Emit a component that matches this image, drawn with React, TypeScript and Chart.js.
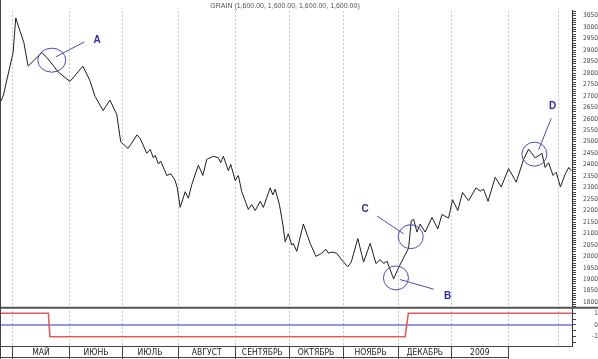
import React, { useEffect, useRef } from "react";
import { Chart, registerables } from "chart.js";

Chart.register(...registerables);

// ---- data (x = trading session index from late April 2008) ----
const sessions = [
  0, 0.9, 4.6, 5.6, 8.7, 10.3, 15.5, 17.4, 19.4, 21.7, 26.2, 31.1, 33.8, 35.7, 38.8,
  41.4, 44, 45.5, 48.3, 51.7, 52.9, 55.4, 56.7, 57.9, 58.6, 59.8, 60.7, 63, 64.5,
  66.2, 67, 68.1, 70, 71.2, 72.5, 75, 76.7, 78.2, 80.7, 82.6, 83.5, 84.5, 86.4,
  87.3, 89, 90.2, 91.5, 94, 95.3, 96.6, 98.5, 99.7, 102.3, 103.3, 104.2, 105.8,
  107.1, 108, 109.2, 110.5, 111.1, 112.4, 114.9, 117.5, 119.7, 121.9, 123.5,
  124.4, 125.7, 127.6, 129.5, 131.8, 133.1, 135.6, 137.8, 140.3, 142.5, 144.1,
  145.4, 146.7, 149.2, 151.1, 153.6, 154.9, 155.9, 156.8, 158.1, 159.3, 161.2,
  163.8, 166, 167.6, 170.1, 171.6, 173.6, 175.4, 177.7, 180.5, 182.1, 183.4,
  185.1, 187.8, 190.1, 192.9, 195.8, 198.6, 200.5, 203, 205.6, 206.8, 208.1,
  209.8, 211, 212.6, 214.5, 215.8, 216.7,
];
const prices = [
  2678, 2703, 2889, 3040, 2932, 2830, 2889, 2868, 2839, 2805, 2763, 2830, 2767, 2699, 2636,
  2682, 2619, 2500, 2471, 2530, 2514, 2450, 2467, 2430, 2441, 2403, 2416, 2353, 2361,
  2331, 2298, 2214, 2282, 2254, 2313, 2398, 2353, 2423, 2437, 2430, 2409, 2437, 2374,
  2402, 2331, 2353, 2282, 2205, 2226, 2200, 2240, 2214, 2299, 2268, 2293, 2226,
  2141, 2064, 2099, 2049, 2057, 2022, 2141, 2057, 2000, 2014, 2031,
  2014, 2019, 2014, 1984, 1955, 1975, 2078, 1975, 2057, 1969, 1986,
  1969, 1979, 1902, 1951, 2007, 2036, 2155, 2162, 2106, 2141, 2106,
  2170, 2120, 2183, 2167, 2247, 2200, 2279, 2243, 2299, 2285, 2293,
  2240, 2345, 2303, 2383, 2324, 2423, 2468, 2430, 2449, 2388, 2409,
  2353, 2367, 2303, 2361, 2388, 2374,
];

// indicator panel
const signalSessions = [0, 18.0, 18.6, 153.6, 154.8, 217];
const signalValues = [1, 1, -1, -1, 1, 1];
const zeroSessions = [0, 217];
const zeroValues = [0, 0];

// month boundaries (session index) and labels
const monthStarts = [4.2, 26.2, 46, 67.3, 89.1, 109.5, 130, 150.9, 171.2, 192.7, 211.7];
const monthLabels = ["МАЙ", "ИЮНЬ", "ИЮЛЬ", "АВГУСТ", "СЕНТЯБРЬ", "ОКТЯБРЬ", "НОЯБРЬ", "ДЕКАБРЬ", "2009"];

const titleText = "GRAIN (1,600.00, 1,600.00, 1,600.00, 1,600.00)";

// annotations (data coordinates)
const annoLetters = ["A", "B", "C", "D"];
const annoCenterS = [19.3, 150.1, 155.7, 202.7];
const annoCenterP = [2856, 1906, 2086, 2446];
const annoLineFromS = [20.9, 151.7, 142.9, 204.3];
const annoLineFromP = [2871, 1899, 2176, 2465];
const annoLineToS = [31.6, 164.4, 153.0, 209.1];
const annoLineToP = [2935, 1857, 2099, 2602];
const annoTextS = [36.5, 169.7, 138.4, 209.6];
const annoTextP = [2944, 1828, 2205, 2653];

const NARROW = "'Liberation Sans Narrow', 'DejaVu Sans Condensed', Arial, sans-serif";

const overlayPlugin = {
  id: "overlay",
  afterDatasetsDraw(chart: any) {
    const { ctx, scales } = chart;
    const xs = scales.x;
    const ys = scales.y;
    ctx.save();
    for (let i = 0; i < annoLetters.length; i++) {
      const cx = xs.getPixelForValue(annoCenterS[i]);
      const cy = ys.getPixelForValue(annoCenterP[i]);
      ctx.strokeStyle = "#4a4ab8";
      ctx.lineWidth = 1;
      ctx.beginPath();
      ctx.ellipse(cx, cy, i === 0 ? 14 : 12.5, 12, 0, 0, Math.PI * 2);
      ctx.stroke();
      ctx.beginPath();
      ctx.moveTo(xs.getPixelForValue(annoLineFromS[i]), ys.getPixelForValue(annoLineFromP[i]));
      ctx.lineTo(xs.getPixelForValue(annoLineToS[i]), ys.getPixelForValue(annoLineToP[i]));
      ctx.stroke();
      ctx.fillStyle = "#2b2ba6";
      ctx.font = "bold 10px Arial, 'Liberation Sans', sans-serif";
      ctx.textAlign = "center";
      ctx.textBaseline = "middle";
      ctx.fillText(annoLetters[i], xs.getPixelForValue(annoTextS[i]), ys.getPixelForValue(annoTextP[i]));
    }
    ctx.restore();
  },
  afterDraw(chart: any) {
    const { ctx, scales, chartArea, width, height } = chart;
    const xs = scales.x;
    const y2 = scales.y2;
    ctx.save();
    // title
    ctx.fillStyle = "#555";
    ctx.font = "7px Arial, 'Liberation Sans', sans-serif";
    ctx.textAlign = "center";
    ctx.textBaseline = "middle";
    ctx.fillText(titleText, 285, 6);
    // panel separator
    ctx.strokeStyle = "#555";
    ctx.lineWidth = 2;
    ctx.beginPath();
    ctx.moveTo(0, y2.top);
    ctx.lineTo(width, y2.top);
    ctx.stroke();
    // left border
    ctx.strokeStyle = "#444";
    ctx.lineWidth = 1;
    ctx.beginPath();
    ctx.moveTo(chartArea.left - 0.5, 0);
    ctx.lineTo(chartArea.left - 0.5, height);
    ctx.stroke();
    // label row bottom
    const lastX = xs.getPixelForValue(monthStarts[monthLabels.length]);
    ctx.beginPath();
    ctx.moveTo(0, height - 1.5);
    ctx.lineTo(lastX, height - 1.5);
    ctx.stroke();
    // month labels
    ctx.fillStyle = "#222";
    ctx.font = "8.5px " + NARROW;
    ctx.textAlign = "center";
    ctx.textBaseline = "middle";
    const rowMid = (chartArea.bottom + height) / 2 + 0.5;
    for (let i = 0; i < monthLabels.length; i++) {
      const a = xs.getPixelForValue(monthStarts[i]);
      const b = xs.getPixelForValue(monthStarts[i + 1]);
      ctx.fillText(monthLabels[i], (a + b) / 2, rowMid);
    }
    ctx.restore();
  },
};

export default function App() {
  const ref = useRef<HTMLCanvasElement | null>(null);
  useEffect(() => {
    if (!ref.current) return;
    const chart = new Chart(ref.current, {
      type: "line",
      data: {
        datasets: [
          {
            data: sessions.map((s, i) => ({ x: s, y: prices[i] })),
            yAxisID: "y",
            borderColor: "#1e1e1e",
            borderWidth: 1,
            pointRadius: 0,
            tension: 0,
          },
          {
            data: signalSessions.map((s, i) => ({ x: s, y: signalValues[i] })),
            yAxisID: "y2",
            borderColor: "#e05c5c",
            borderWidth: 1.6,
            pointRadius: 0,
            tension: 0,
          },
          {
            data: zeroSessions.map((s, i) => ({ x: s, y: zeroValues[i] })),
            yAxisID: "y2",
            borderColor: "#2d2dcc",
            borderWidth: 1.2,
            pointRadius: 0,
            tension: 0,
          },
        ],
      },
      options: {
        animation: false,
        responsive: false,
        events: [],
        layout: { padding: { left: 1, right: 0, top: 0, bottom: 0 } },
        plugins: { legend: { display: false }, tooltip: { enabled: false }, title: { display: false } },
        scales: {
          x: {
            type: "linear",
            min: 0,
            max: 217,
            afterBuildTicks: (scale: any) => {
              scale.ticks = monthStarts.map((v) => ({ value: v }));
            },
            ticks: { display: false },
            grid: {
              color: "#c4c4c4",
              lineWidth: 1,
              tickLength: 13,
              tickColor: (c: any) => (c.index === monthStarts.length - 1 ? "rgba(0,0,0,0)" : "#444"),
            },
            border: { display: true, color: "#444", width: 1, dash: [2, 2] },
          },
          y: {
            type: "linear",
            position: "right",
            stack: "v",
            stackWeight: 306.5,
            min: 1776,
            max: 3071,
            afterFit: (scale: any) => {
              scale.width = 26;
            },
            ticks: {
              stepSize: 10,
              autoSkip: false,
              includeBounds: false,
              padding: 7,
              color: "#444",
              font: { family: NARROW, size: 6.5 },
              callback: (v: any) => (Math.abs(v % 50) < 0.01 ? String(Math.round(v)) : ""),
            },
            grid: { drawOnChartArea: false, tickLength: 4, tickColor: "#444" },
            border: { display: true, color: "#333", width: 1 },
          },
          y2: {
            type: "linear",
            position: "right",
            stack: "v",
            stackWeight: 39.5,
            min: -1.78,
            max: 1.46,
            afterFit: (scale: any) => {
              scale.width = 26;
            },
            ticks: {
              stepSize: 0.5,
              autoSkip: false,
              includeBounds: false,
              padding: 7,
              crossAlign: "far",
              color: "#444",
              font: { family: NARROW, size: 6.5 },
              callback: (v: any) => (Math.abs(v % 1) < 0.01 ? String(Math.round(v)) : ""),
            },
            grid: { drawOnChartArea: false, tickLength: 4, tickColor: "#444" },
            border: { display: true, color: "#333", width: 1 },
          },
        },
      },
      plugins: [overlayPlugin],
    } as any);
    return () => chart.destroy();
  }, []);
  return (
    <div style={{ position: "fixed", left: 0, top: 0, width: 598, height: 359, background: "#fff" }}>
      <canvas ref={ref} width={598} height={359} style={{ display: "block", width: 598, height: 359 }} />
    </div>
  );
}
